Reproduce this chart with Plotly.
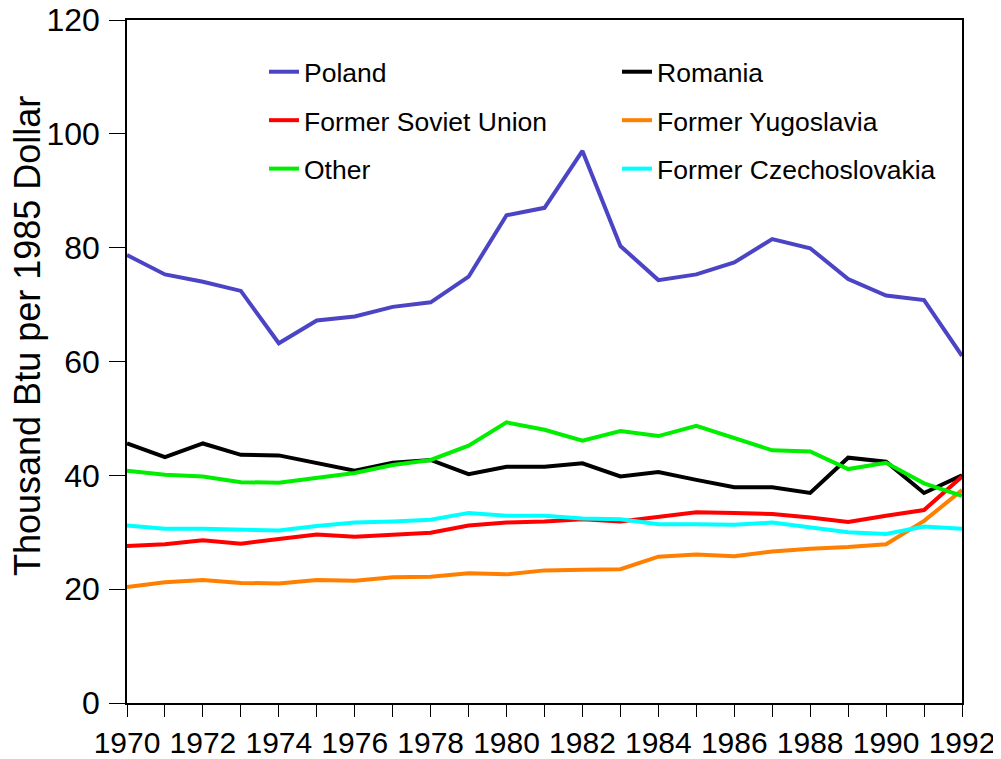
import plotly.graph_objects as go

years = list(range(1970, 1993))

poland = [78.7, 75.3, 74.0, 72.4, 63.2, 67.2, 67.9, 69.6, 70.4, 74.9, 85.7, 87.0,
          97.0, 80.3, 74.3, 75.3, 77.4, 81.5, 79.9, 74.5, 71.6, 70.8, 61.0]
romania = [45.6, 43.2, 45.6, 43.6, 43.5, 42.2, 40.8, 42.2, 42.7, 40.2, 41.5, 41.5,
           42.1, 39.8, 40.6, 39.2, 37.9, 37.9, 36.9, 43.1, 42.4, 36.9, 40.0]
soviet = [27.6, 27.9, 28.6, 28.0, 28.8, 29.6, 29.2, 29.6, 29.9, 31.2, 31.7, 31.9,
          32.3, 31.9, 32.7, 33.5, 33.4, 33.2, 32.6, 31.8, 32.9, 33.9, 39.8]
yugoslavia = [20.4, 21.2, 21.6, 21.1, 21.0, 21.6, 21.5, 22.1, 22.2, 22.8, 22.6, 23.3,
              23.4, 23.5, 25.7, 26.1, 25.8, 26.6, 27.1, 27.4, 27.9, 32.0, 37.4]
other = [40.8, 40.1, 39.8, 38.8, 38.7, 39.5, 40.4, 41.8, 42.7, 45.2, 49.3, 48.0,
         46.1, 47.8, 46.9, 48.7, 46.6, 44.4, 44.2, 41.1, 42.2, 38.6, 36.4]
czech = [31.2, 30.6, 30.6, 30.5, 30.3, 31.1, 31.7, 31.9, 32.2, 33.4, 32.9, 32.9,
         32.4, 32.3, 31.4, 31.4, 31.3, 31.7, 30.8, 30.0, 29.7, 31.0, 30.6]

x_tick_vals = list(range(1970, 1993, 2))
y_tick_vals = [0, 20, 40, 60, 80, 100, 120]
y_title = "Thousand Btu per 1985 Dollar"

series = [
    ("Poland", poland, "#4B44C4", "legend"),
    ("Romania", romania, "#000000", "legend2"),
    ("Former Soviet Union", soviet, "#FF0000", "legend"),
    ("Former Yugoslavia", yugoslavia, "#FF8000", "legend2"),
    ("Other", other, "#00EE00", "legend"),
    ("Former Czechoslovakia", czech, "#00FFFF", "legend2"),
]

FONT = "Liberation Sans, Arial, sans-serif"

fig = go.Figure()
for name, vals, color, lg in series:
    fig.add_trace(go.Scatter(
        x=years, y=vals, name=name, mode="lines",
        line=dict(color=color, width=4),
        legend=lg, legendgroup=name,
    ))

# target plot area on screen: left 127, right 962, top 20, bottom 703
def px_x(p):
    return (p - 127) / 835.0

def px_y(p):
    return 1 - (p - 20) / 683.0

legend_common = dict(
    xref="paper", yref="paper", xanchor="left", yanchor="top",
    bgcolor="rgba(0,0,0,0)", borderwidth=0,
    font=dict(family=FONT, size=26.5, color="#000000"),
    tracegroupgap=11, itemwidth=30, orientation="v",
)

fig.update_layout(
    width=1001, height=759,
    margin=dict(l=119, r=47, t=12, b=64, autoexpand=False),
    paper_bgcolor="white", plot_bgcolor="white",
    font=dict(family=FONT, color="#000000"),
    legend=dict(x=px_x(264), y=px_y(48), **legend_common),
    legend2=dict(x=px_x(617), y=px_y(48), **legend_common),
    xaxis=dict(
        range=[1970, 1992], tickvals=x_tick_vals, ticktext=[str(v) for v in x_tick_vals],
        ticks="outside", ticklen=12, tickwidth=1.2, tickcolor="#000000",
        minor=dict(dtick=1, tick0=1970, ticks="outside", ticklen=12, tickwidth=1.2, tickcolor="#000000"),
        showline=True, linecolor="#000000", linewidth=1.5, mirror=True,
        showgrid=False, zeroline=False,
        tickfont=dict(family=FONT, size=30, color="#000000"),
        ticklabeloverflow="allow",
    ),
    yaxis=dict(
        range=[0, 120], tickvals=y_tick_vals,
        ticks="outside", ticklen=16, tickwidth=1.2, tickcolor="#000000",
        showline=True, linecolor="#000000", linewidth=1.5, mirror=True,
        showgrid=False, zeroline=False,
        tickfont=dict(family=FONT, size=32, color="#000000"),
        ticklabeloverflow="allow", ticklabelstandoff=3,
    ),
    annotations=[dict(
        text=y_title, xref="paper", yref="paper",
        x=px_x(27), y=px_y(336), xanchor="center", yanchor="middle",
        textangle=-90, showarrow=False,
        font=dict(family=FONT, size=36, color="#000000"),
    )],
)

fig.write_html("out.html")
